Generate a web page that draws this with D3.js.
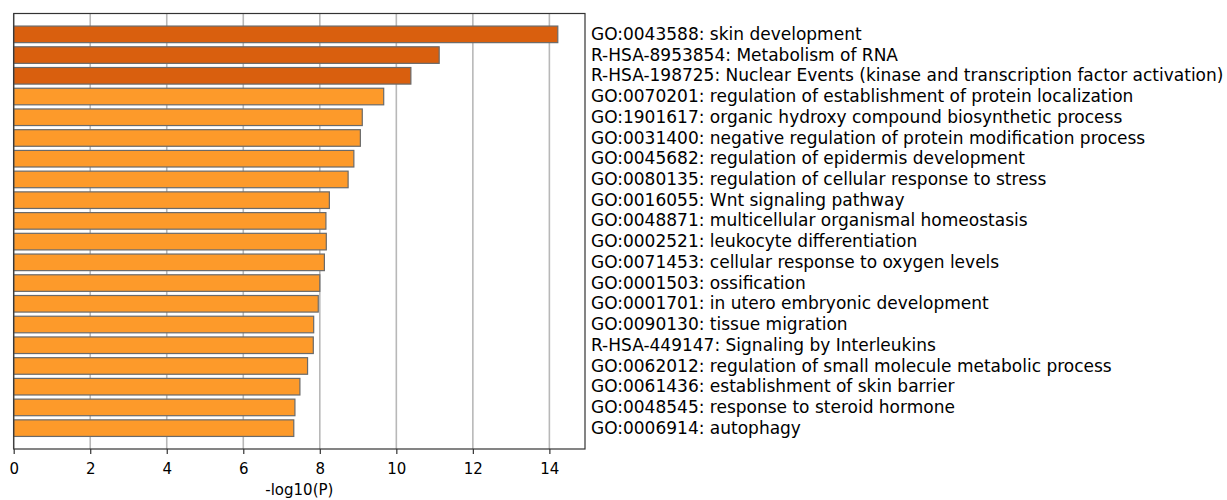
<!DOCTYPE html>
<html>
<head>
<meta charset="utf-8">
<script src="https://cdn.jsdelivr.net/npm/d3@7"></script>
<style>
  html, body { margin: 0; padding: 0; background: #fff; }
  svg { display: block; }
  text { font-family: "DejaVu Sans", sans-serif; fill: #000; }
</style>
</head>
<body>
<svg id="chart" width="1227" height="500"></svg>
<script>
// Enriched terms, top to bottom
const terms = [
  "GO:0043588: skin development",
  "R-HSA-8953854: Metabolism of RNA",
  "R-HSA-198725: Nuclear Events (kinase and transcription factor activation)",
  "GO:0070201: regulation of establishment of protein localization",
  "GO:1901617: organic hydroxy compound biosynthetic process",
  "GO:0031400: negative regulation of protein modification process",
  "GO:0045682: regulation of epidermis development",
  "GO:0080135: regulation of cellular response to stress",
  "GO:0016055: Wnt signaling pathway",
  "GO:0048871: multicellular organismal homeostasis",
  "GO:0002521: leukocyte differentiation",
  "GO:0071453: cellular response to oxygen levels",
  "GO:0001503: ossification",
  "GO:0001701: in utero embryonic development",
  "GO:0090130: tissue migration",
  "R-HSA-449147: Signaling by Interleukins",
  "GO:0062012: regulation of small molecule metabolic process",
  "GO:0061436: establishment of skin barrier",
  "GO:0048545: response to steroid hormone",
  "GO:0006914: autophagy"
];

// -log10(P) per term
const logP = [14.22, 11.12, 10.38, 9.67, 9.11, 9.06, 8.89, 8.74, 8.25, 8.16,
              8.17, 8.12, 8.00, 7.96, 7.84, 7.83, 7.68, 7.48, 7.35, 7.32];

// Highlight group (1 = top tier)
const tier = [1, 1, 1, 0, 0, 0, 0, 0, 0, 0, 0, 0, 0, 0, 0, 0, 0, 0, 0, 0];

const xTicks = [0, 2, 4, 6, 8, 10, 12, 14];
const xLabel = "-log10(P)";

const tierColors = ["#fd9a2a", "#d95f0e"];

const svg = d3.select("#chart");
const plotL = 13.7, plotR = 585, plotT = 13.5, plotB = 449;

const x = d3.scaleLinear()
  .domain([0, d3.max(logP) * 1.05])
  .range([plotL, plotR]);

const y = d3.scaleBand()
  .domain(d3.range(terms.length))
  .range([plotT + 2.2, plotB - 2.2])
  .paddingInner(0.2)
  .paddingOuter(0.5);

// vertical grid
svg.append("g")
  .selectAll("line")
  .data(xTicks)
  .join("line")
  .attr("x1", d => x(d)).attr("x2", d => x(d))
  .attr("y1", plotT).attr("y2", plotB)
  .attr("stroke", "#b8b8b8")
  .attr("stroke-width", 1.6);

// bars
svg.append("g")
  .selectAll("rect")
  .data(logP)
  .join("rect")
  .attr("x", x(0))
  .attr("y", (d, i) => y(i))
  .attr("width", d => x(d) - x(0))
  .attr("height", y.bandwidth())
  .attr("fill", (d, i) => tierColors[tier[i]])
  .attr("stroke", "#6a6a6a")
  .attr("stroke-width", 1.2);

// frame
svg.append("rect")
  .attr("x", plotL).attr("y", plotT)
  .attr("width", plotR - plotL).attr("height", plotB - plotT)
  .attr("fill", "none")
  .attr("stroke", "#333")
  .attr("stroke-width", 1.2);

// x axis
const xAxis = svg.append("g")
  .attr("transform", `translate(0,${plotB})`)
  .call(d3.axisBottom(x).tickValues(xTicks).tickFormat(d3.format("d")).tickSize(5).tickPadding(9));
xAxis.select(".domain").remove();
xAxis.selectAll(".tick line").attr("stroke", "#333").attr("stroke-width", 1.2);
xAxis.selectAll(".tick text")
  .style("font-family", "DejaVu Sans, sans-serif")
  .style("font-size", "15px")
  .attr("fill", "#000");

svg.append("text")
  .attr("x", (plotL + plotR) / 2)
  .attr("y", 495)
  .attr("text-anchor", "middle")
  .style("font-size", "15px")
  .text(xLabel);

// term labels
svg.append("g")
  .selectAll("text")
  .data(terms)
  .join("text")
  .attr("x", 591)
  .attr("y", (d, i) => y(i) + y.bandwidth() / 2)
  .attr("dy", "0.33em")
  .style("font-size", "17px")
  .text(d => d);
</script>
</body>
</html>
